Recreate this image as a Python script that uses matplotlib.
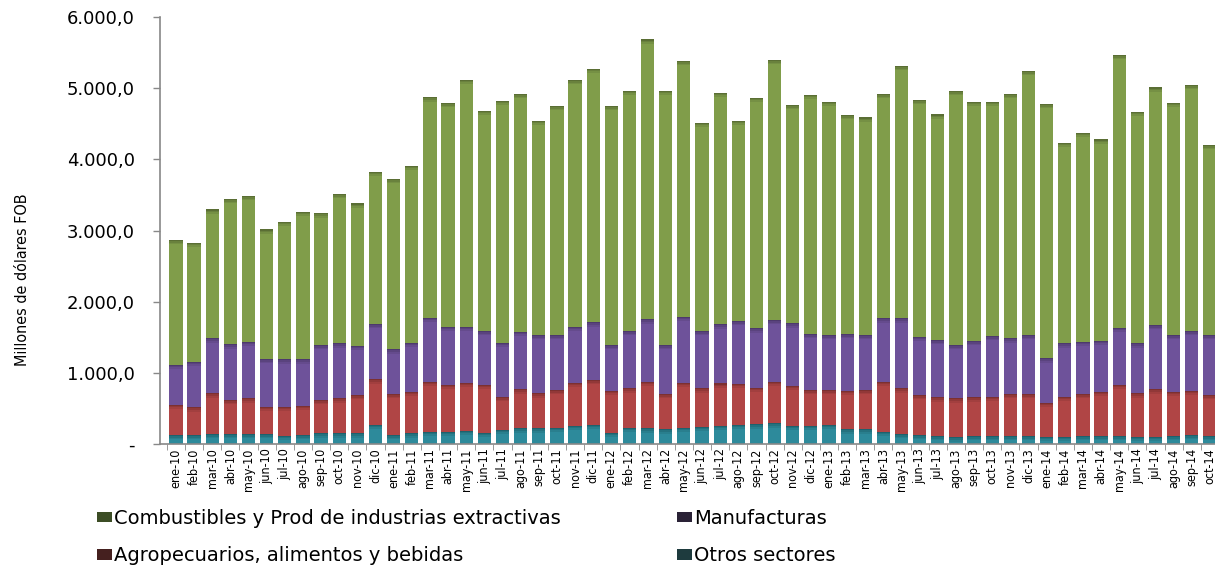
import numpy as np
import matplotlib
matplotlib.use("Agg")
import matplotlib.pyplot as plt
from matplotlib.patches import Patch
from matplotlib.ticker import FuncFormatter, FixedLocator

# meses ene-10 .. oct-14
meses = ["ene", "feb", "mar", "abr", "may", "jun", "jul", "ago", "sep", "oct", "nov", "dic"]
etiquetas = []
for anio in range(10, 15):
    for m in meses:
        etiquetas.append("%s-%d" % (m, anio))
etiquetas = etiquetas[:58]

# millones de dolares FOB
otros = [126, 126, 140, 140, 140, 140, 117, 126, 150, 150, 150, 267,
         126, 150, 173, 173, 187, 159, 200, 220, 220, 229, 253, 267,
         159, 229, 220, 206, 229, 243, 253, 267, 276, 290, 253, 253,
         267, 206, 206, 173, 140, 126, 112, 94, 112, 112, 112, 112,
         103, 103, 112, 112, 112, 103, 103, 112, 126, 112]
agro = [422, 389, 572, 478, 502, 384, 407, 412, 468, 492, 538, 641,
        576, 585, 702, 656, 674, 670, 460, 548, 492, 529, 608, 632,
        590, 553, 655, 496, 632, 539, 598, 576, 515, 585, 562, 505,
        491, 543, 552, 702, 642, 562, 544, 548, 544, 553, 590, 590,
        477, 562, 590, 623, 717, 609, 665, 623, 623, 576]
manuf = [562, 641, 772, 782, 795, 670, 665, 651, 772, 772, 693, 777,
         628, 688, 899, 819, 787, 758, 765, 809, 819, 773, 787, 810,
         641, 805, 876, 688, 927, 805, 830, 885, 834, 867, 880, 787,
         773, 796, 773, 890, 983, 819, 805, 748, 791, 852, 782, 829,
         623, 749, 735, 716, 805, 702, 903, 796, 838, 843]
combust = [1755, 1672, 1812, 2041, 2046, 1821, 1933, 2074, 1850, 2097, 1999, 2140,
           2392, 2486, 3096, 3142, 3472, 3093, 3400, 3339, 3010, 3216, 3464, 3567,
           3357, 3376, 3933, 3573, 3591, 2926, 3258, 2813, 3239, 3651, 3066, 3366,
           3277, 3076, 3057, 3151, 3544, 3324, 3169, 3568, 3361, 3291, 3432, 3708,
           3572, 2818, 2935, 2828, 3829, 3253, 3339, 3263, 3455, 2668]

series = [
    ("Otros sectores", otros, "#2d8a9b", "#1e3b3e"),
    ("Agropecuarios, alimentos y bebidas", agro, "#b04545", "#45201f"),
    ("Manufacturas", manuf, "#6e529a", "#2a2236"),
    ("Combustibles y Prod de industrias extractivas", combust, "#809d4a", "#3c4d25"),
]

fig = plt.figure(figsize=(12.15, 5.66), dpi=100)
ax = fig.add_axes([160 / 1215, 122 / 566, 1059 / 1215, 427 / 566])

x = np.arange(len(etiquetas))
base = np.zeros(len(etiquetas))
for nombre, vals, color, _ in series:
    vals = np.array(vals, dtype=float)
    ax.bar(x, vals, 0.73, bottom=base, color=color, linewidth=0)
    # sombra oscura en la parte superior de cada tramo
    for h, a in [(60, 0.08), (35, 0.10), (15, 0.14)]:
        hh = np.minimum(vals, h)
        ax.bar(x, hh, 0.73, bottom=base + vals - hh, color="black", alpha=a, linewidth=0)
    base = base + vals

ax.set_xlim(-0.88, 57.5)
ax.set_ylim(0, 6000)
ax.set_yticks(np.arange(0, 6001, 1000))
ax.yaxis.set_major_formatter(FuncFormatter(
    lambda v, p: "-" if v == 0 else ("{:,.1f}".format(v)).replace(",", "X").replace(".", ",").replace("X", ".")))
for lab in ax.get_yticklabels():
    lab.set_fontsize(13)
    lab.set_family("DejaVu Sans")
ax.tick_params(axis="y", direction="out", length=5, width=1, color="#888888", pad=13)

ax.set_xticks(x)
ax.set_xticklabels(etiquetas, rotation=90, fontsize=9, family="DejaVu Sans", fontstretch="condensed")
ax.tick_params(axis="x", length=0, pad=3)
ax.xaxis.set_minor_locator(FixedLocator(x - 0.5))
ax.tick_params(axis="x", which="minor", length=4, color="#888888", direction="out")

for s in ["top", "right"]:
    ax.spines[s].set_visible(False)
ax.spines["left"].set_color("#888888")
ax.spines["bottom"].set_color("#888888")
ax.spines["left"].set_linewidth(1.2)
ax.spines["bottom"].set_linewidth(1.2)

fig.text(23 / 1215, 1 - 280 / 566, "Millones de dólares FOB", rotation=90, ha="center", va="center",
         fontsize=11.5, family="DejaVu Sans", fontstretch="condensed")

orden = [3, 1, 2, 0]
handles = [Patch(facecolor=series[i][3], edgecolor="none") for i in orden]
labels = [series[i][0] for i in orden]
fig.legend(handles, labels, ncol=2, loc="upper left", bbox_to_anchor=(97 / 1215, 1 - 509 / 566),
           frameon=False, fontsize=14, handlelength=0.75, handleheight=0.45, handletextpad=0.12,
           columnspacing=6.0, labelspacing=0.95, borderpad=0, borderaxespad=0)

fig.savefig("out.png", dpi=100)
